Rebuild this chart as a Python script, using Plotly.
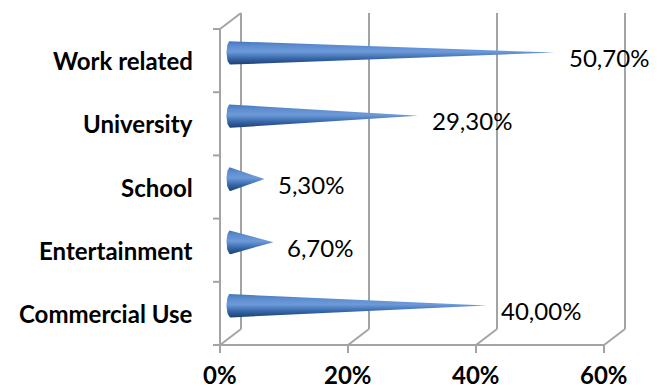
import numpy as np
import plotly.graph_objects as go

categories = ["Commercial Use", "Entertainment", "School", "University", "Work related"]
values = [40.0, 6.7, 5.3, 29.3, 50.7]
value_labels = ["40,00%", "6,70%", "5,30%", "29,30%", "50,70%"]
x_ticks = [0, 20, 40, 60]
x_tick_labels = ["0%", "20%", "40%", "60%"]

W, H = 661, 387
PX_X = 6.4      # pixels per percent
PX_Y = 63.2     # pixels per category slot
X0_PX, Y0_PX = 220, 345
DX = 21 / PX_X  # depth offset
DY = 16 / PX_Y
XMAX = 60
N = len(categories)

GRAY = "#a3a3a3"
FONT = "Lato"
FS = 24

fig = go.Figure()

# frame lines
xs, ys = [], []
def seg(x1, y1, x2, y2):
    xs.extend([x1, x2, None]); ys.extend([y1, y2, None])

seg(0, 0, 0, N)
seg(DX, DY, DX, N + DY)
seg(0, N, DX, N + DY)
seg(0, 0, DX, DY)
for b in range(N + 1):
    seg(-7 / PX_X, b, 0, b)
seg(0, 0, XMAX, 0)
for t in x_ticks:
    seg(t, 0, t, -8 / PX_Y)
    if t > 0:
        seg(t, 0, t + DX, DY)
        seg(t + DX, DY, t + DX, N + DY)

fig.add_trace(go.Scatter(x=xs, y=ys, mode="lines", line=dict(color=GRAY, width=2),
                         hoverinfo="skip", showlegend=False))

# cones
r = 12 / PX_Y
a = 4 / PX_X
theta = np.linspace(np.pi / 2, 3 * np.pi / 2, 30)
for i, v in enumerate(values):
    c = i + 0.5 + DY / 2
    bx = DX / 2
    px = [bx + v] + list(bx + a * np.cos(theta)) + [bx + v]
    py = [c] + list(c + r * np.sin(theta)) + [c]
    fig.add_trace(go.Scatter(
        x=px, y=py, mode="lines", fill="toself",
        line=dict(width=0, color="rgba(0,0,0,0)"),
        fillgradient=dict(type="vertical", colorscale=[
            [0.0, "#1f3f70"], [0.25, "#3565a8"], [0.55, "#6d9ad9"],
            [0.8, "#5d8dd0"], [1.0, "#4676bb"]]),
        hoverinfo="skip", showlegend=False))

annotations = []
for i, (v, lab) in enumerate(zip(values, value_labels)):
    annotations.append(dict(x=v + DX / 2 + 12 / PX_X, y=i + 0.5 + DY / 2 - 5 / PX_Y,
                            text=lab, showarrow=False, xanchor="left", yanchor="middle",
                            font=dict(family=FONT, size=FS, color="#000")))
for i, cat in enumerate(categories):
    annotations.append(dict(x=-25 / PX_X, y=i + 0.5, text="<b>%s</b>" % cat, showarrow=False,
                            xanchor="right", yanchor="middle",
                            font=dict(family=FONT, size=FS, color="#000")))
for t, lab in zip(x_ticks, x_tick_labels):
    annotations.append(dict(x=t, y=-13 / PX_Y, text="<b>%s</b>" % lab, showarrow=False,
                            xanchor="center", yanchor="top",
                            font=dict(family=FONT, size=FS, color="#000")))

fig.update_layout(
    width=W, height=H, margin=dict(l=0, r=0, t=0, b=0),
    paper_bgcolor="white", plot_bgcolor="white",
    xaxis=dict(range=[-X0_PX / PX_X, (W - X0_PX) / PX_X], visible=False, fixedrange=True),
    yaxis=dict(range=[-(H - Y0_PX) / PX_Y, Y0_PX / PX_Y], visible=False, fixedrange=True),
    annotations=annotations, showlegend=False,
)

fig.write_html("out.html")
